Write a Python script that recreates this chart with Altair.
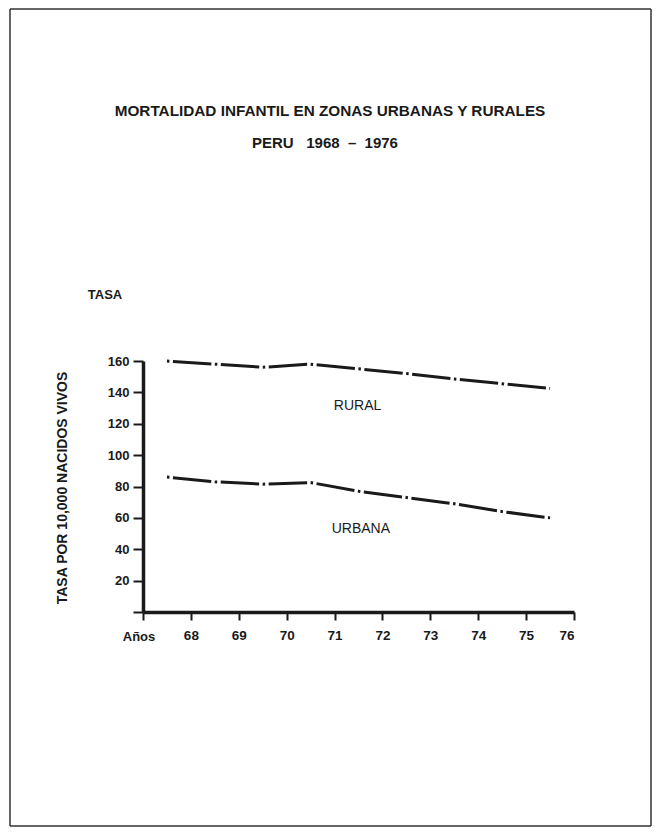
import altair as alt
import pandas as pd

# ---- data ----
years = [67.5, 68.5, 69.5, 70.5, 71.5, 72.5, 73.5, 74.5, 75.5]
rural = [160, 158, 156, 158, 155, 152, 148.5, 145.5, 142.5]
urbana = [86, 83, 81.5, 82.5, 77, 73, 69, 64, 60]

series_names = ["RURAL", "URBANA"]
label_x = [71.48, 71.55]
label_y = [131, 53]

y_ticks = [0, 20, 40, 60, 80, 100, 120, 140, 160]
x_ticks = [67, 68, 69, 70, 71, 72, 73, 74, 75, 76]

NB = "\u00a0"
title_text = "MORTALIDAD INFANTIL EN ZONAS URBANAS Y RURALES"
subtitle_text = "PERU" + NB * 3 + "1968" + NB * 2 + "\u2013" + NB * 2 + "1976"
y_title_text = "TASA POR 10,000 NACIDOS VIVOS"
tasa_text = "TASA"
anos_text = "Años"

FONT = "Liberation Sans"
INK = "#1a1a1a"

df = pd.DataFrame({
    "year": years * 2,
    "value": rural + urbana,
    "serie": ["RURAL"] * len(years) + ["URBANA"] * len(years),
})
labels_df = pd.DataFrame({"serie": series_names, "x": label_x, "y": label_y})

W, H = 431, 251

xscale = alt.Scale(domain=[67, 76], nice=False, zero=False)
yscale = alt.Scale(domain=[0, 160], nice=False)


def x_axis():
    return alt.Axis(
        values=x_ticks, labelExpr="datum.value == 67 ? '' : format(datum.value, 'd')",
        tickSize=8, tickWidth=2, domainWidth=3.5, grid=False, title=None,
        labelFont=FONT, labelFontSize=13.5, labelFontWeight="bold", labelColor=INK,
        labelPadding=8, tickColor=INK, domainColor=INK, labelOverlap=False,
    )


def y_axis():
    return alt.Axis(
        values=y_ticks, labelExpr="datum.value == 0 ? '' : datum.label",
        tickSize=10, tickWidth=2, domainWidth=3.5, grid=False, title=None,
        labelFont=FONT, labelFontSize=13, labelFontWeight="bold", labelColor=INK,
        labelPadding=4, tickColor=INK, domainColor=INK, labelOverlap=False,
    )


lines = alt.Chart(df).mark_line(
    color=INK, strokeWidth=3, strokeDash=[2.5, 3.5, 38.5, 3.5], strokeCap="butt"
).encode(
    x=alt.X("year:Q", scale=xscale, axis=x_axis()),
    y=alt.Y("value:Q", scale=yscale, axis=y_axis()),
    detail="serie:N",
)

series_labels = alt.Chart(labels_df).mark_text(
    font=FONT, fontSize=14, color=INK, align="center", baseline="middle", fontWeight=500
).encode(
    x=alt.X("x:Q", scale=xscale, axis=x_axis()),
    y=alt.Y("y:Q", scale=yscale, axis=y_axis()),
    text="serie:N",
)


def note(text, x, y, size, weight="bold", angle=0, align="center"):
    return alt.Chart(pd.DataFrame({"t": [text]})).mark_text(
        font=FONT, fontSize=size, fontWeight=weight, color=INK,
        align=align, baseline="middle", angle=angle,
    ).encode(text="t:N", x=alt.value(x), y=alt.value(y))


# positions relative to plot origin (page x 143, y 361)
notes = [
    note(title_text, 330 - 143, 111 - 361, 15.3),
    note(subtitle_text, 325 - 143, 143 - 361, 15),
    note(tasa_text, 105 - 143, 295 - 361, 13),
    note(anos_text, 139 - 143, 637 - 361, 13),
    note(y_title_text, 63 - 143, 488 - 361, 14, angle=270),
]


def rule(x, x2, y, y2):
    return alt.Chart(pd.DataFrame({"a": [0]})).mark_rule(
        color="#333333", strokeWidth=1.5
    ).encode(x=alt.value(x), x2=alt.value(x2), y=alt.value(y), y2=alt.value(y2))


frame = [
    rule(-133, 508, -352, -352),
    rule(508, 508, -352, 465),
    rule(-133, -133, -352, 465),
    rule(-133, 508, 465, 465),
]

chart = alt.layer(lines, series_labels, *notes, *frame).properties(
    width=W, height=H,
    padding={"left": 135, "top": 353, "right": 78, "bottom": 216},
    autosize=alt.AutoSizeParams(type="none"),
    background="white",
).configure_view(strokeOpacity=0)

chart.save("out.html", embed_options={"renderer": "svg", "actions": False})
